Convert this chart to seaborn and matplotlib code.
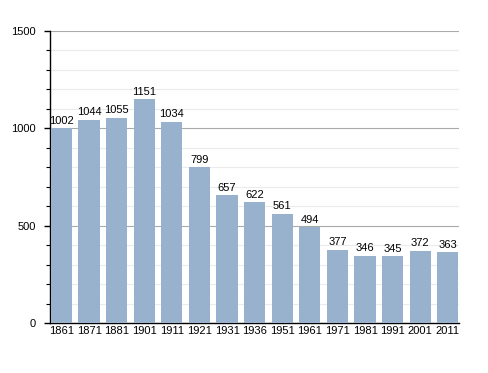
import matplotlib
matplotlib.use("Agg")
import matplotlib.pyplot as plt
import seaborn as sns
import pandas as pd
from matplotlib.ticker import MultipleLocator

years = ["1861", "1871", "1881", "1901", "1911", "1921", "1931", "1936", "1951", "1961", "1971", "1981", "1991", "2001", "2011"]
population = [1002, 1044, 1055, 1151, 1034, 799, 657, 622, 561, 494, 377, 346, 345, 372, 363]

sns.set_style("white")
plt.rcParams['font.family'] = ['Liberation Sans', 'DejaVu Sans']
plt.rcParams['text.color'] = 'black'
plt.rcParams['xtick.color'] = 'black'
plt.rcParams['ytick.color'] = 'black'

df = pd.DataFrame({"year": years, "pop": population})
fig = plt.figure(figsize=(4.88, 3.73), dpi=100)
ax = fig.add_axes([0.1025, 0.134, 0.8381, 0.7829])

w = 0.77
sns.barplot(data=df, x="year", y="pop", color="#98b1cd", saturation=1, width=w,
            edgecolor="none", linewidth=0, ax=ax, zorder=3)
ax.set_xlim(-w/2 - 0.03, len(years) - 1 + w/2 + 0.02)
ax.set_ylim(0, 1500)
ax.yaxis.set_major_locator(MultipleLocator(500))
ax.yaxis.set_minor_locator(MultipleLocator(100))
ax.grid(axis='y', which='major', color='#aaaaaa', linewidth=0.8, zorder=0)
ax.grid(axis='y', which='minor', color='#ebebeb', linewidth=0.8, zorder=0)
ax.set_axisbelow(True)
for s in ['top', 'right']:
    ax.spines[s].set_visible(False)
ax.spines['left'].set_color('black')
ax.spines['bottom'].set_color('black')
ax.spines['left'].set_linewidth(1)
ax.spines['bottom'].set_linewidth(1)
ax.tick_params(axis='y', which='major', left=True, length=4, width=1, labelsize=8, pad=6)
ax.tick_params(axis='y', which='minor', left=True, length=3, width=0.8)
ax.tick_params(axis='x', bottom=False, length=0, labelsize=8, pad=2)
ax.set_xlabel("")
ax.set_ylabel("")
for i, v in enumerate(population):
    ax.text(i, v + 12, str(v), ha='center', va='bottom', fontsize=8)
fig.savefig("out.png", dpi=100)
